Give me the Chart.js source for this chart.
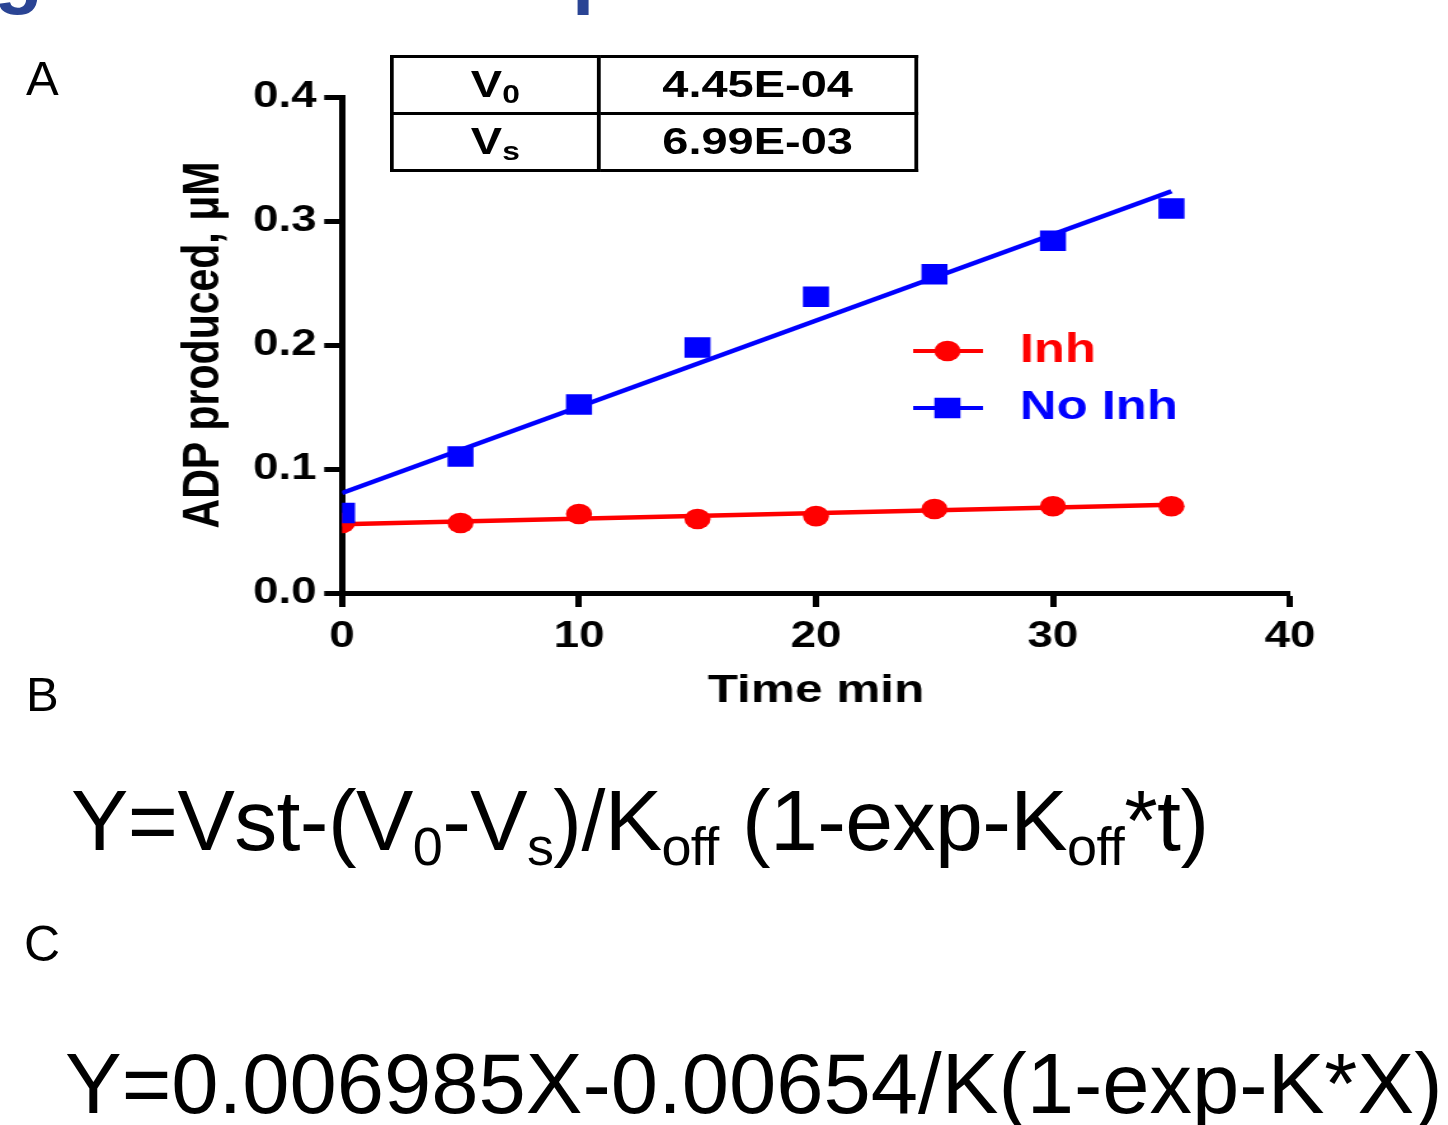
<!DOCTYPE html>
<html>
<head>
<meta charset="utf-8">
<script src="https://cdn.jsdelivr.net/npm/chart.js@4.4.1/dist/chart.umd.min.js"></script>
<style>
  html, body { margin: 0; padding: 0; background: #fff; }
  body { width: 1448px; height: 1125px; position: relative; overflow: hidden;
         font-family: "Liberation Sans", Arial, sans-serif; color: #000; }
  .txt { position: absolute; white-space: nowrap; line-height: 1; }
  #stretch { position: absolute; left: 0; top: 0; width: 1140px; height: 720px;
             transform: scaleX(1.27); transform-origin: 0 0; }
  #tbl { position: absolute; left: 307px; top: 55px; width: 416px; height: 117px;
         border-collapse: collapse; font-weight: bold; font-size: 37px; }
  #tbl td { border: 3px solid #000; text-align: center; padding: 0; }
  #tbl sub { font-size: 25px; vertical-align: -6px; line-height: 1; }
  .sb { font-size: 54px; vertical-align: -15px; }
</style>
</head>
<body>
<div class="txt" style="left:-6px; top:-69px; font-size:80px; font-weight:bold; color:#2a4494;">g</div>
<div class="txt" style="left:572px; top:-69px; font-size:80px; font-weight:bold; color:#2a4494;">p</div>

<div id="stretch">
  <canvas id="chart"></canvas>
  <table id="tbl">
    <tr><td style="width:39.5%">V<sub>0</sub></td><td>4.45E-04</td></tr>
    <tr><td>V<sub>s</sub></td><td>6.99E-03</td></tr>
  </table>
</div>

<div class="txt" style="left:26px; top:54px; font-size:49px;">A</div>
<div class="txt" style="left:26px; top:670px; font-size:49px;">B</div>
<div class="txt" style="left:24px; top:919px; font-size:50px;">C</div>

<div class="txt" style="left:71px; top:777px; font-size:86px; letter-spacing:-0.6px;">Y=Vst-(V<span class="sb">0</span>-V<span class="sb">s</span>)/K<span class="sb">off</span> (1-exp-K<span class="sb">off</span>*t)</div>
<div class="txt" style="left:65px; top:1041px; font-size:85px;">Y=0.006985X-0.00654/K(1-exp-K*X)</div>

<script>
// data
const timeMin = [0, 5, 10, 15, 20, 25, 30, 35];
const noInhADP = [0.0645, 0.110, 0.152, 0.198, 0.239, 0.257, 0.284, 0.310];
const inhADP = [0.0565, 0.0565, 0.0637, 0.0597, 0.062, 0.0677, 0.070, 0.070];

// fitted lines (end points)
const fitTime = [0, 35];
const noInhFit = [0.0806, 0.324];
const inhFit = [0.0555, 0.0711];

const xTickValues = [0, 10, 20, 30, 40];
const yTickValues = [0, 0.1, 0.2, 0.3, 0.4];

const seriesNames = ['Inh', 'No Inh'];
const RED = '#ff0000';
const BLUE = '#0000ff';

function toPoints(xs, ys) {
    return xs.map((x, i) => ({ x: x, y: ys[i] }));
}

Chart.defaults.font.family = '"Liberation Sans", Arial, sans-serif';
Chart.defaults.color = '#000';

// legend drawn inside the plot area
const legendPlugin = {
    id: 'insideLegend',
    afterDatasetsDraw(chart) {
        const ctx = chart.ctx;
        const items = [
            { label: seriesNames[0], color: RED, style: 'circle', radius: 10.3, y: 351 },
            { label: seriesNames[1], color: BLUE, style: 'rect', radius: 14.5, y: 408 }
        ];
        ctx.save();
        items.forEach(it => {
            ctx.strokeStyle = it.color;
            ctx.lineWidth = 4;
            ctx.beginPath();
            ctx.moveTo(719, it.y);
            ctx.lineTo(774, it.y);
            ctx.stroke();
            ctx.fillStyle = it.color;
            Chart.helpers.drawPoint(ctx, { pointStyle: it.style, radius: it.radius, rotation: 0, borderWidth: 0 }, 746, it.y);
            ctx.font = 'bold 40px "Liberation Sans", Arial, sans-serif';
            ctx.textBaseline = 'middle';
            ctx.textAlign = 'left';
            ctx.fillText(it.label, 803, it.y);
        });
        ctx.restore();
    }
};

new Chart(document.getElementById('chart'), {
    type: 'scatter',
    data: {
        datasets: [
            {
                label: seriesNames[1],
                data: toPoints(timeMin, noInhADP),
                pointStyle: 'rect',
                pointRadius: 14.5,
                backgroundColor: BLUE,
                borderWidth: 0,
                order: 1
            },
            {
                label: seriesNames[0],
                data: toPoints(timeMin, inhADP),
                pointStyle: 'circle',
                pointRadius: 10.3,
                backgroundColor: RED,
                borderWidth: 0,
                order: 2
            },
            {
                label: 'No Inh fit',
                data: toPoints(fitTime, noInhFit),
                showLine: true,
                pointRadius: 0,
                borderColor: BLUE,
                borderWidth: 4.5,
                order: 3
            },
            {
                label: 'Inh fit',
                data: toPoints(fitTime, inhFit),
                showLine: true,
                pointRadius: 0,
                borderColor: RED,
                borderWidth: 4.5,
                order: 4
            }
        ]
    },
    options: {
        responsive: true,
        maintainAspectRatio: false,
        animation: false,
        layout: { padding: { left: 0, right: 124.3, top: 97, bottom: 0 } },
        plugins: {
            legend: { display: false },
            tooltip: { enabled: false }
        },
        scales: {
            x: {
                type: 'linear',
                min: 0,
                max: 40,
                afterFit: s => { s.height = 127; },
                afterBuildTicks: s => { s.ticks = xTickValues.map(v => ({ value: v })); },
                border: { display: true, color: '#000', width: 5 },
                grid: { drawOnChartArea: false, drawTicks: true, tickLength: 14, tickWidth: 5, tickColor: '#000' },
                ticks: {
                    padding: 8,
                    font: { size: 36, weight: 'bold' },
                    color: '#000',
                    callback: v => String(v)
                },
                title: {
                    display: true,
                    text: 'Time min',
                    font: { size: 39, weight: 'bold' },
                    color: '#000',
                    padding: { top: 0, bottom: 5 }
                }
            },
            y: {
                type: 'linear',
                min: 0,
                max: 0.4,
                afterFit: s => { s.width = 269.3; },
                afterBuildTicks: s => { s.ticks = yTickValues.map(v => ({ value: v })); },
                border: { display: true, color: '#000', width: 5 },
                grid: { drawOnChartArea: false, drawTicks: true, tickLength: 14, tickWidth: 5, tickColor: '#000' },
                ticks: {
                    padding: 6,
                    font: { size: 36, weight: 'bold' },
                    color: '#000',
                    callback: v => Number(v).toFixed(1)
                },
                title: {
                    display: true,
                    text: 'ADP produced, μM',
                    font: { size: 41, weight: 'bold' },
                    color: '#000',
                    padding: { top: 136, bottom: 0 }
                }
            }
        }
    },
    plugins: [legendPlugin]
});
</script>
</body>
</html>
